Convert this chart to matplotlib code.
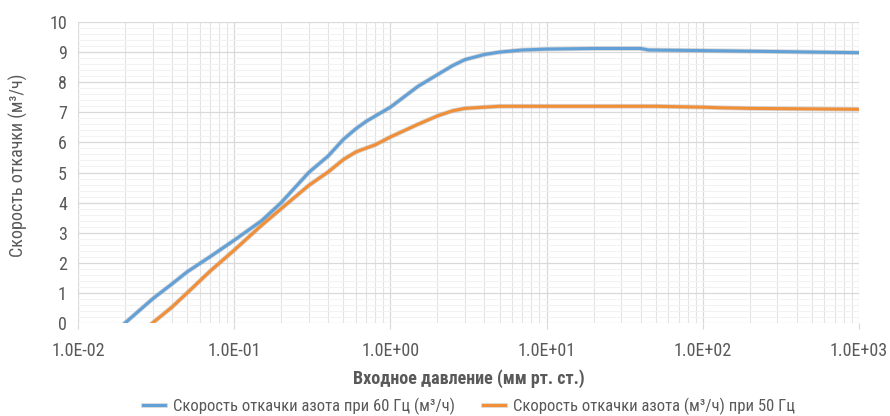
import matplotlib.pyplot as plt
import matplotlib.patheffects as pe
from matplotlib.ticker import LogLocator, FuncFormatter, MultipleLocator

# данные
p60 = [0.02, 0.03, 0.04, 0.05, 0.07, 0.1, 0.15, 0.2, 0.3, 0.4, 0.5, 0.6, 0.7,
       1.0, 1.5, 2.0, 2.5, 3.0, 4.0, 5.0, 7.0, 10, 20, 40, 45, 100, 200, 500, 1000]
q60 = [0.0, 0.8, 1.3, 1.7, 2.2, 2.75, 3.4, 4.0, 5.0, 5.55, 6.1, 6.45, 6.7,
       7.17, 7.86, 8.25, 8.55, 8.75, 8.92, 9.0, 9.07, 9.1, 9.12, 9.12, 9.07, 9.05, 9.03, 9.0, 8.98]

p50 = [0.03, 0.04, 0.05, 0.07, 0.1, 0.15, 0.2, 0.3, 0.4, 0.5, 0.6, 0.65, 0.8,
       1.0, 1.5, 2.0, 2.5, 3.0, 4.0, 5.0, 10, 50, 100, 130, 200, 1000]
q50 = [0.0, 0.53, 1.0, 1.72, 2.42, 3.25, 3.8, 4.57, 5.02, 5.43, 5.68, 5.75, 5.92,
       6.18, 6.6, 6.88, 7.05, 7.13, 7.17, 7.2, 7.2, 7.2, 7.17, 7.15, 7.13, 7.1]

label60 = 'Скорость откачки азота при 60 Гц (м³/ч)'
label50 = 'Скорость откачки азота (м³/ч) при 50 Гц'

plt.rcParams['font.family'] = ['Roboto Condensed', 'Roboto', 'DejaVu Sans']
txt = '#595959'
fs = 13

fig = plt.figure(figsize=(8.9, 4.16), dpi=100)
ax = fig.add_axes([78 / 890, 1 - 323 / 416, (859 - 78) / 890, (323 - 22) / 416])

shadow = [pe.Stroke(linewidth=3.4, foreground='#9a9a9a', alpha=0.4), pe.Normal()]
ax.plot(p60, q60, color='#62A0D8', lw=2.2, label=label60, path_effects=shadow, zorder=3)
ax.plot(p50, q50, color='#F28E35', lw=2.2, label=label50, path_effects=shadow, zorder=3)

ax.set_xscale('log')
ax.set_xlim(0.01, 1000)
ax.set_ylim(0, 10)
ax.xaxis.set_major_locator(LogLocator(base=10, numticks=10))
ax.xaxis.set_minor_locator(LogLocator(base=10, subs=range(2, 10), numticks=20))
ax.xaxis.set_major_formatter(FuncFormatter(lambda v, pos: '%.1E' % v))
ax.yaxis.set_major_locator(MultipleLocator(1))
ax.yaxis.set_minor_locator(MultipleLocator(0.2))

ax.grid(which='major', color='#d9d9d9', lw=0.9)
ax.grid(which='minor', axis='x', color='#e3e3e3', lw=0.8)
ax.grid(which='minor', axis='y', color='#f2f2f2', lw=0.7)
ax.set_axisbelow(True)
for s in ax.spines.values():
    s.set_visible(False)

ax.tick_params(axis='x', which='major', length=4, color='#d9d9d9', labelsize=fs,
               labelcolor=txt, pad=10)
ax.tick_params(axis='x', which='minor', length=0)
ax.tick_params(axis='y', which='both', length=0, labelsize=fs, labelcolor=txt, pad=8)

ax.set_xlabel('Входное давление (мм рт. ст.)', fontsize=fs, fontweight='bold',
              color=txt, labelpad=6)
ax.set_ylabel('Скорость откачки (м³/ч)', fontsize=fs, color=txt)
ax.yaxis.set_label_coords(-0.064, 0.525)

leg = fig.legend(loc='center', bbox_to_anchor=(469 / 890, 1 - 406 / 416),
                 ncol=2, frameon=False, fontsize=12, handlelength=1.3,
                 columnspacing=1.7, handletextpad=0.5)
for t in leg.get_texts():
    t.set_color(txt)

fig.savefig('out.png', dpi=100)
